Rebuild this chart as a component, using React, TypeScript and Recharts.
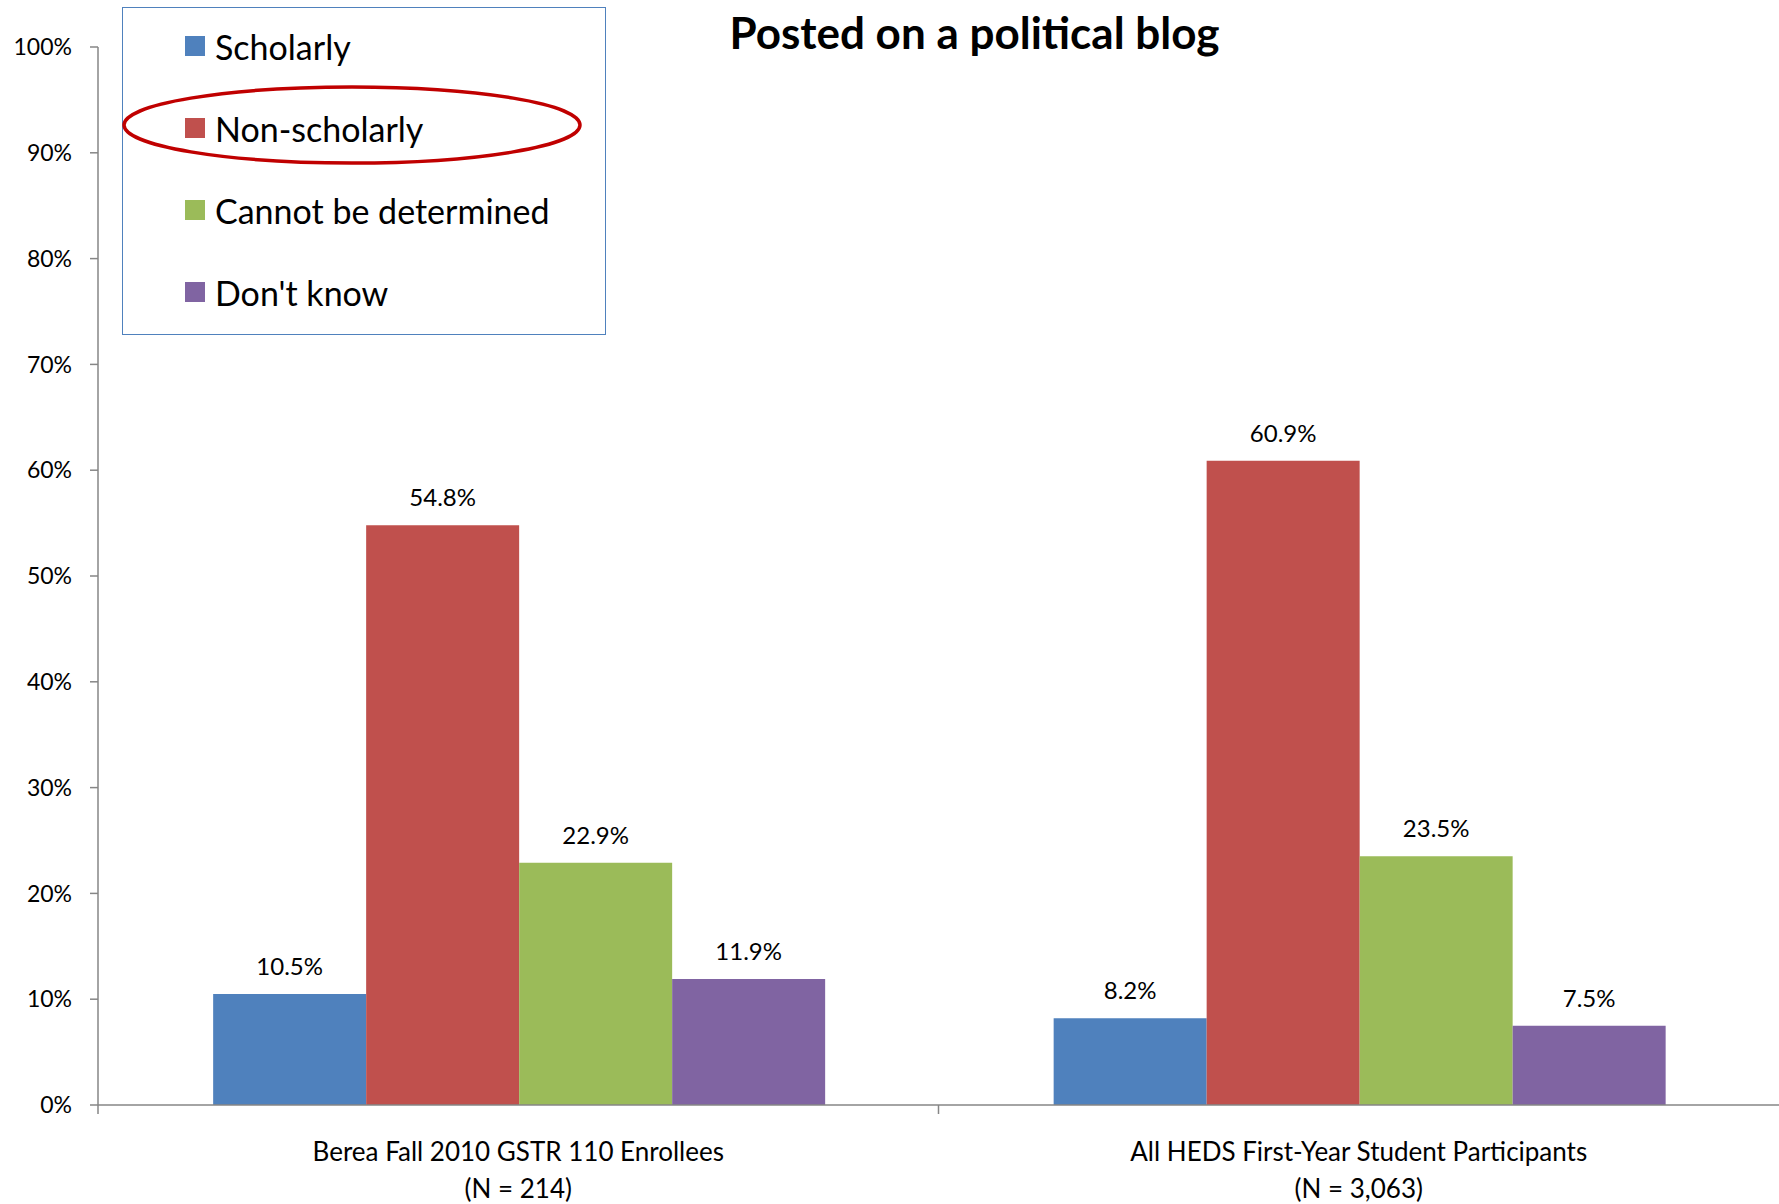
import { BarChart, Bar, XAxis, YAxis, Legend, LabelList } from "recharts";

/* ── data ── */
const groups = [
  "Berea Fall 2010 GSTR 110 Enrollees",
  "All HEDS First-Year Student Participants",
];
const sizes = ["(N = 214)", "(N = 3,063)"];

const scholarly = [10.5, 8.2];
const nonScholarly = [54.8, 60.9];
const cannotDetermine = [22.9, 23.5];
const dontKnow = [11.9, 7.5];

const yTicks = [0, 10, 20, 30, 40, 50, 60, 70, 80, 90, 100];

const series = [
  { key: "scholarly", name: "Scholarly", color: "#4F81BD" },
  { key: "nonScholarly", name: "Non-scholarly", color: "#C0504D" },
  { key: "cannot", name: "Cannot be determined", color: "#9BBB59" },
  { key: "dontKnow", name: "Don't know", color: "#8064A2" },
];

const rows = groups.map((g, i) => ({
  group: g,
  size: sizes[i],
  scholarly: scholarly[i],
  nonScholarly: nonScholarly[i],
  cannot: cannotDetermine[i],
  dontKnow: dontKnow[i],
}));

/* ── layout ── */
const W = 1779;
const H = 1204;
const FONT = "Lato, 'Open Sans', sans-serif";
const AXIS = "#868686";
const Y_W = 98;
const X_H = 99;
const M = { top: 47, right: 0, left: 0, bottom: 0 };
const BAND = (W - Y_W - M.left - M.right) / groups.length;

const pct = (v: number) => `${v.toFixed(1)}%`;

const CatTick = ({ x, y, payload, index }: any) => {
  const i = payload?.index ?? index ?? 0;
  const edge = x - BAND / 2;
  return (
    <g>
      <line x1={edge} y1={y - 8} x2={edge} y2={y + 1} stroke={AXIS} strokeWidth={1.5} />
      <text x={x} y={y + 48} textAnchor="middle" fontSize={26} fontFamily={FONT} fill="#000">
        {payload.value}
      </text>
      <text x={x} y={y + 85} textAnchor="middle" fontSize={26} fontFamily={FONT} fill="#000">
        {sizes[i]}
      </text>
    </g>
  );
};

const LegendBox = () => (
  <div
    style={{
      width: 482,
      height: 326,
      border: "1.5px solid #4F81BD",
      background: "#fff",
      position: "relative",
      fontFamily: FONT,
    }}
  >
    {series.map((s, i) => (
      <div
        key={s.key}
        style={{
          position: "absolute",
          left: 62,
          top: 38 + i * 82 - 20,
          height: 40,
          display: "flex",
          alignItems: "center",
        }}
      >
        <span style={{ width: 20, height: 20, background: s.color, display: "inline-block", marginRight: 10 }} />
        <span style={{ fontSize: 34, color: "#000", whiteSpace: "nowrap" }}>{s.name}</span>
      </div>
    ))}
  </div>
);

export default function App() {
  return (
    <div style={{ position: "absolute", left: 0, top: 0, width: W, height: H, background: "#fff" }}>
      <BarChart
        width={W}
        height={H}
        data={rows}
        margin={M}
        barCategoryGap="13.7%"
        barGap={0}
      >
        <XAxis
          dataKey="group"
          height={X_H}
          stroke={AXIS}
          strokeWidth={1.5}
          tickLine={false}
          tick={<CatTick />}
          interval={0}
        />
        <YAxis
          width={Y_W}
          domain={[0, 100]}
          ticks={yTicks}
          interval={0}
          stroke={AXIS}
          strokeWidth={1.5}
          tickSize={8}
          tickMargin={18}
          tickFormatter={(v: number) => `${v}%`}
          tick={{ fontSize: 23, fontFamily: FONT, fill: "#000" }}
        />
        <Legend
          layout="vertical"
          align="center"
          verticalAlign="middle"
          wrapperStyle={{ left: 122, top: 7, width: 485, height: 330 }}
          content={<LegendBox />}
        />
        {series.map((s) => (
          <Bar key={s.key} dataKey={s.key} name={s.name} fill={s.color} isAnimationActive={false}>
            <LabelList
              dataKey={s.key}
              position="top"
              offset={19}
              formatter={(v: any) => pct(Number(v))}
              style={{ fontSize: 24, fontFamily: FONT, fill: "#000" }}
            />
          </Bar>
        ))}
      </BarChart>

      <div
        style={{
          position: "absolute",
          left: 0,
          width: W,
          top: 6,
          textAlign: "center",
          paddingLeft: 170,
          boxSizing: "border-box",
          fontFamily: FONT,
          fontWeight: 700,
          fontSize: 44,
          color: "#000",
        }}
      >
        Posted on a political blog
      </div>

      <svg
        width={W}
        height={H}
        style={{ position: "absolute", left: 0, top: 0, pointerEvents: "none" }}
      >
        <ellipse cx={352} cy={125} rx={228} ry={38} fill="none" stroke="#C00000" strokeWidth={3.5} />
      </svg>
    </div>
  );
}
